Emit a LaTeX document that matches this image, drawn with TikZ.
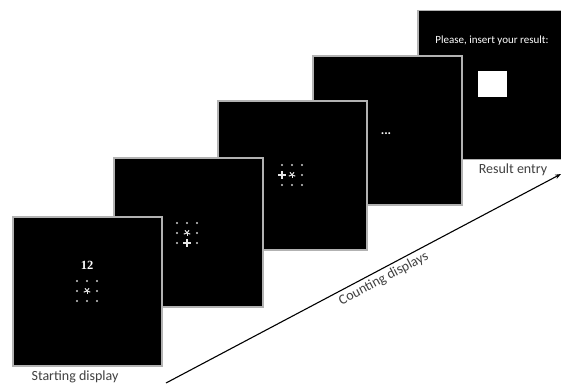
\documentclass[tikz,border=0pt]{standalone}
\usepackage{fontspec}
\setmainfont{Carlito}
\newfontfamily\numfont{Liberation Serif}
\usetikzlibrary{arrows.meta}
\tikzset{
  panel/.style={draw=gray!60, line width=1.2pt, fill=black, minimum size=149pt, inner sep=0pt},
  griddot/.style={fill=white!80!black},
  stroke/.style={draw=white!90!black, line width=.9pt},
  caption/.style={font=\fontsize{14}{16}\selectfont, text=black!75, inner sep=1pt},
}
\newcommand{\starmark}[2]{\foreach \a in {18,90,162,234,306} \draw[stroke, line width=1pt] (#1,#2) -- ++(\a:3.4);}
\newcommand{\plusmark}[2]{\draw[stroke, line width=1.1pt] (#1-3.8,#2) -- (#1+3.8,#2) (#1,#2-3.8) -- (#1,#2+3.8);}
\begin{document}
\begin{tikzpicture}[x=1pt,y=-1pt]
        \useasboundingbox (0,0) rectangle (561,386);
        \node[panel] (result) at (492.5,85) {};
        \node[panel] (third) at (387.5,130.5) {};
        \node[panel] (second) at (292.5,175.5) {};
        \node[panel] (first) at (188.5,232.5) {};
        \node[panel] (start) at (87.5,291.5) {};
        \node[font=\fontsize{11}{13}\selectfont, text=white] (prompt) at (492,41) {Please, insert your result:};
        \node[fill=white, minimum width=29pt, minimum height=26pt, inner sep=0pt] (entrybox) at (492.5,84) {};
        \node[font=\bfseries\fontsize{13}{15}\selectfont, text=white, anchor=base] (ellipsis) at (386,134.5) {...};
        \node[font=\numfont\bfseries\fontsize{12.5}{14}\selectfont, text=white] (count) at (87,265) {12};
        \foreach \x/\y in {77/281,87/281,97/281,77/291,97/291,77/301,87/301,97/301}
            \fill[griddot] (\x,\y) circle (1.1);
        \starmark{87}{291}
        \foreach \x/\y in {177/223,187/223,197/223,177/233,197/233,177/243,197/243}
            \fill[griddot] (\x,\y) circle (1.1);
        \starmark{187}{233}
        \plusmark{187}{243}
        \foreach \x/\y in {282/165,292/165,302/165,302/175,282/185,292/185,302/185}
            \fill[griddot] (\x,\y) circle (1.1);
        \starmark{292}{175}
        \plusmark{282}{175}
        \node[caption] (startlabel) at (75,377) {Starting display};
        \node[caption] (resultlabel) at (513,170) {Result entry};
        \coordinate (tail) at (166,383);
        \coordinate (head) at (561,174);
        \draw[-{Stealth[length=6pt,width=4.5pt]}, line width=1.1pt] (tail) -- (head) node[caption, pos=.54, sloped, below=2pt] (countlabel) {Counting displays};
    \end{tikzpicture}
\end{document}
